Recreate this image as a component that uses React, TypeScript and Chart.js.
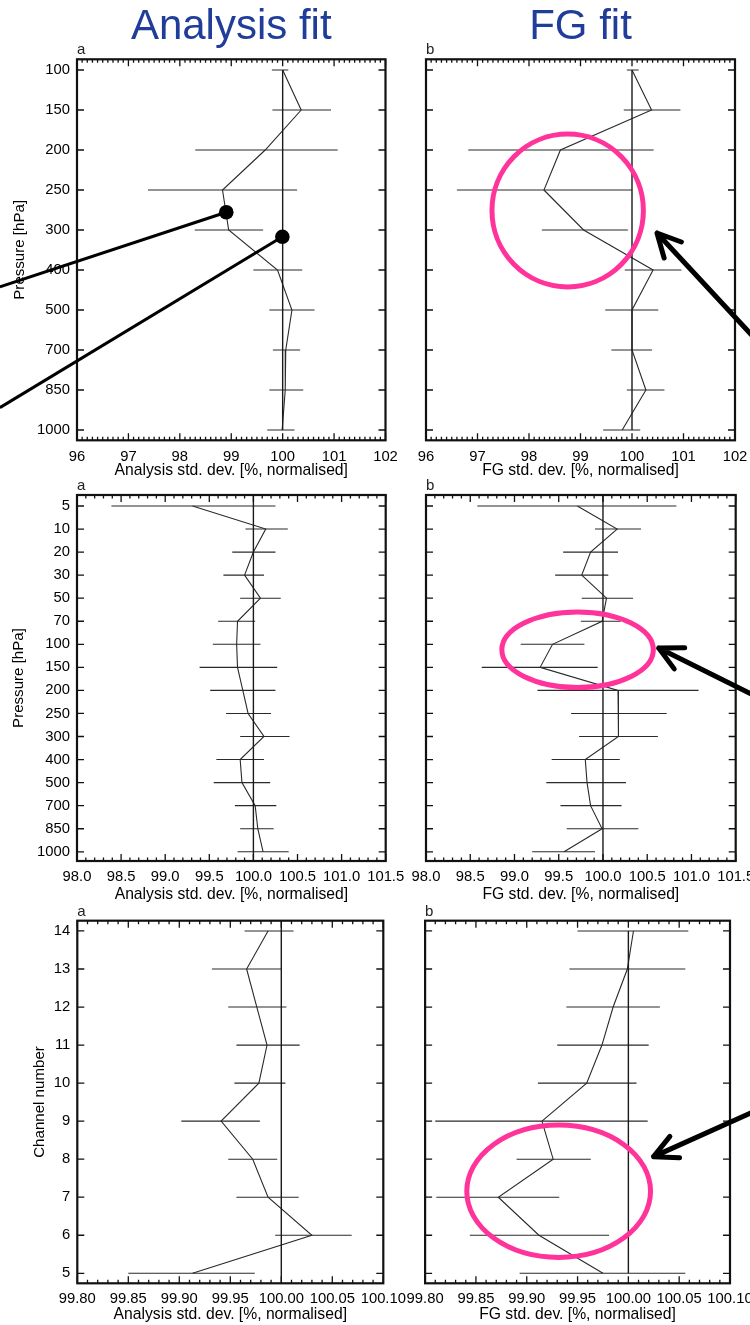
import React, { useEffect, useRef } from 'react';
import { Chart, registerables } from 'chart.js';

Chart.register(...registerables);

const FONT = '"Liberation Sans", Arial, Helvetica, sans-serif';
Chart.defaults.font.family = FONT;

// ---------------- data ----------------
// Top row: upper-air levels 100-1000 hPa
const upperLevels = ['100', '150', '200', '250', '300', '400', '500', '700', '850', '1000'];
const anUpperMean = [100.0, 100.36, 99.66, 98.83, 98.95, 99.9, 100.18, 100.06, 100.05, 99.99];
const anUpperLo = [99.79, 99.8, 98.3, 97.38, 98.29, 99.43, 99.74, 99.81, 99.74, 99.7];
const anUpperHi = [100.11, 100.94, 101.07, 100.28, 99.62, 100.38, 100.62, 100.34, 100.4, 100.23];
const fgUpperMean = [100.0, 100.38, 98.61, 98.29, 99.06, 100.41, 100.0, 100.0, 100.27, 99.81];
const fgUpperLo = [99.9, 99.84, 96.82, 96.6, 98.25, 99.86, 99.48, 99.6, 99.9, 99.44];
const fgUpperHi = [100.13, 100.94, 100.42, 100.0, 99.92, 100.96, 100.51, 100.39, 100.63, 100.16];

// Middle row: levels 5-1000 hPa
const fullLevels = ['5', '10', '20', '30', '50', '70', '100', '150', '200', '250', '300', '400', '500', '700', '850', '1000'];
const anFullMean = [99.31, 100.14, 100.0, 99.9, 100.08, 99.82, 99.81, 99.82, 99.88, 99.94, 100.12, 99.85, 99.87, 100.02, 100.05, 100.11];
const anFullLo = [98.39, 99.91, 99.76, 99.66, 99.85, 99.6, 99.54, 99.39, 99.51, 99.69, 99.85, 99.58, 99.55, 99.79, 99.85, 99.82];
const anFullHi = [100.25, 100.39, 100.25, 100.12, 100.31, 100.02, 100.08, 100.27, 100.25, 100.2, 100.41, 100.12, 100.19, 100.26, 100.23, 100.4];
const fgFullMean = [99.71, 100.16, 99.86, 99.76, 100.04, 99.99, 99.43, 99.29, 100.17, 100.18, 100.17, 99.8, 99.82, 99.86, 99.99, 99.56];
const fgFullLo = [98.58, 99.91, 99.55, 99.46, 99.76, 99.75, 99.07, 98.63, 99.26, 99.64, 99.73, 99.42, 99.36, 99.52, 99.59, 99.2];
const fgFullHi = [100.83, 100.43, 100.17, 100.06, 100.34, 100.2, 99.79, 99.94, 101.08, 100.72, 100.62, 100.19, 100.26, 100.21, 100.4, 99.91];

// Bottom row: channels 5-14
const channels = [5, 6, 7, 8, 9, 10, 11, 12, 13, 14];
const channelLabels = ['5', '6', '7', '8', '9', '10', '11', '12', '13', '14'];
const anChMean = [99.913, 100.03, 99.987, 99.972, 99.941, 99.978, 99.986, 99.976, 99.966, 99.987];
const anChLo = [99.85, 99.994, 99.956, 99.948, 99.902, 99.954, 99.956, 99.948, 99.932, 99.964];
const anChHi = [99.974, 100.069, 100.017, 99.996, 99.979, 100.004, 100.018, 100.005, 100.0, 100.012];
const fgChMean = [99.975, 99.912, 99.872, 99.926, 99.915, 99.959, 99.974, 99.985, 99.999, 100.005];
const fgChLo = [99.893, 99.844, 99.811, 99.89, 99.81, 99.911, 99.93, 99.939, 99.942, 99.95];
const fgChHi = [100.056, 99.981, 99.932, 99.963, 100.019, 100.008, 100.02, 100.031, 100.056, 100.059];

// x tick labels
const xTicksUpper = [96, 97, 98, 99, 100, 101, 102];
const xTicksFull = [98.0, 98.5, 99.0, 99.5, 100.0, 100.5, 101.0, 101.5];
const xTicksChannel = [99.8, 99.85, 99.9, 99.95, 100.0, 100.05, 100.1];

const upperIdx = upperLevels.map((_, i) => i);
const fullIdx = fullLevels.map((_, i) => i);

// ---------------- annotation marks (data coordinates) ----------------
const pointersA1 = [
  { x: 98.903, y: 3.557, x2: 94.5, y2: 5.42 },
  { x: 99.994, y: 4.17, x2: 94.5, y2: 8.44 },
];
const circleB1 = [{ x: 98.751, y: 3.5125, rx: 1.47, ry: 1.91 }];
const arrowB1 = [{ x: 100.485, y: 4.075, x2: 102.485, y2: 6.85 }];
const circleB2 = [{ x: 99.713, y: 6.234, rx: 0.856, ry: 1.64 }];
const arrowB2 = [{ x: 100.63, y: 6.16, x2: 101.88, y2: 8.55 }];
const circleB3 = [{ x: 99.9314, y: 7.157, rx: 0.0904, ry: 1.74 }];
const arrowB3 = [{ x: 100.0248, y: 8.067, x2: 100.139, y2: 9.44 }];

// ---------------- layout ----------------
const TICK_SIZE = 14.8;
const XT_SIZE = 15.7;
const YT_SIZE = 15.1;
const INK = '#000';

type Pt = { x: number; y: number; x2?: number; y2?: number; rx?: number; ry?: number };
interface PanelDef {
  canvas: [number, number, number, number];
  area: [number, number, number, number];
  title?: string;
  titleMid?: number;
  letter: string;
  subMid: number;
  yTitle?: string;
  yTitleMid?: number;
  xTitle: string;
  xTitleMid: number;
  xTickPad: number;
  xTicks: number[];
  xDec: number;
  minorPerMajor: number;
  yValues: number[];
  yLabels: string[];
  yMin: number;
  yMax: number;
  reverse: boolean;
  mean: number[];
  lo: number[];
  hi: number[];
  refFull: boolean;
  circles?: Pt[];
  arrows?: Pt[];
  pointers?: Pt[];
}

const PANELS: PanelDef[] = [
  {
    canvas: [0, 0, 420, 485], area: [77, 59.3, 385.5, 440.3],
    title: 'Analysis fit', titleMid: 27.5, letter: 'a', subMid: 50.3,
    yTitle: 'Pressure [hPa]', yTitleMid: 19.4,
    xTitle: 'Analysis std. dev. [%, normalised]', xTitleMid: 470.8, xTickPad: 7.3,
    xTicks: xTicksUpper, xDec: 0, minorPerMajor: 10,
    yValues: upperIdx, yLabels: upperLevels, yMin: -0.2675, yMax: 9.2575, reverse: true,
    mean: anUpperMean, lo: anUpperLo, hi: anUpperHi, refFull: false,
    pointers: pointersA1,
  },
  {
    canvas: [400, 0, 380, 485], area: [426, 59.3, 735, 440.3],
    title: 'FG fit', titleMid: 27.5, letter: 'b', subMid: 50.3,
    xTitle: 'FG std. dev. [%, normalised]', xTitleMid: 470.8, xTickPad: 7.3,
    xTicks: xTicksUpper, xDec: 0, minorPerMajor: 10,
    yValues: upperIdx, yLabels: upperLevels, yMin: -0.2675, yMax: 9.2575, reverse: true,
    mean: fgUpperMean, lo: fgUpperLo, hi: fgUpperHi, refFull: false,
    circles: circleB1, arrows: arrowB1,
  },
  {
    canvas: [0, 470, 420, 435], area: [77, 495, 385.7, 861],
    letter: 'a', subMid: 486,
    yTitle: 'Pressure [hPa]', yTitleMid: 18.9,
    xTitle: 'Analysis std. dev. [%, normalised]', xTitleMid: 894.5, xTickPad: 7.5,
    xTicks: xTicksFull, xDec: 1, minorPerMajor: 5,
    yValues: fullIdx, yLabels: fullLevels, yMin: -0.477, yMax: 15.4, reverse: true,
    mean: anFullMean, lo: anFullLo, hi: anFullHi, refFull: true,
  },
  {
    canvas: [400, 470, 380, 435], area: [426, 495, 735.7, 861],
    letter: 'b', subMid: 486,
    xTitle: 'FG std. dev. [%, normalised]', xTitleMid: 894.5, xTickPad: 7.5,
    xTicks: xTicksFull, xDec: 1, minorPerMajor: 5,
    yValues: fullIdx, yLabels: fullLevels, yMin: -0.477, yMax: 15.4, reverse: true,
    mean: fgFullMean, lo: fgFullLo, hi: fgFullHi, refFull: true,
    circles: circleB2, arrows: arrowB2,
  },
  {
    canvas: [0, 895, 420, 430], area: [77.3, 920.7, 383.3, 1283.3],
    letter: 'a', subMid: 912,
    yTitle: 'Channel number', yTitleMid: 39.4,
    xTitle: 'Analysis std. dev. [%, normalised]', xTitleMid: 1314.5, xTickPad: 6.6,
    xTicks: xTicksChannel, xDec: 2, minorPerMajor: 5,
    yValues: channels, yLabels: channelLabels, yMin: 4.737, yMax: 14.27, reverse: false,
    mean: anChMean, lo: anChLo, hi: anChHi, refFull: true,
  },
  {
    canvas: [400, 895, 380, 430], area: [424, 920.7, 730, 1283.3],
    letter: 'b', subMid: 912,
    xTitle: 'FG std. dev. [%, normalised]', xTitleMid: 1314.5, xTickPad: 6.6,
    xTicks: xTicksChannel, xDec: 2, minorPerMajor: 5,
    yValues: channels, yLabels: channelLabels, yMin: 4.737, yMax: 14.27, reverse: false,
    mean: fgChMean, lo: fgChLo, hi: fgChHi, refFull: false,
    circles: circleB3, arrows: arrowB3,
  },
];

function buildConfig(p: PanelDef): any {
  const [cl, ct, cw, chH] = p.canvas;
  const [L, T, R, B] = p.area;
  const yLH = YT_SIZE * 1.2;
  const xLH = XT_SIZE * 1.2;
  const showY = !!p.yTitle;
  const yScaleLeft = showY ? (p.yTitleMid as number) - yLH / 2 : L;
  const yW = L - yScaleLeft;
  const xScaleBottom = p.xTitleMid + xLH / 2;
  const xH = xScaleBottom - B;
  const padding = { left: yScaleLeft - cl, right: cl + cw - R, top: 0, bottom: ct + chH - xScaleBottom };

  let titleOpts: any = { display: false };
  let y0 = ct;
  if (p.title) {
    const tLH = 42 * 0.7;
    const tTop = (p.titleMid as number) - ct - tLH / 2;
    titleOpts = {
      display: true, text: p.title, color: '#1f3d99', align: 'center', fullSize: false,
      font: { family: FONT, size: 42, weight: 'normal', lineHeight: 0.7 },
      padding: { top: tTop, bottom: 0 },
    };
    y0 = ct + tTop + tLH;
  }
  const sLH = 15;
  const sTop = p.subMid - y0 - sLH / 2;
  const sBottom = T - (y0 + sTop + sLH);
  const subOpts = {
    display: true, text: p.letter, color: '#222', align: 'start', fullSize: false,
    font: { family: FONT, size: 15, weight: 'normal', lineHeight: 1 },
    padding: { top: sTop, bottom: sBottom },
  };

  const yv = p.yValues;
  const refY = p.refFull ? [p.yMin, p.yMax] : [yv[0], yv[yv.length - 1]];
  const datasets: any[] = [
    {
      data: refY.map((y) => ({ x: 100, y })), showLine: true,
      borderColor: '#1a1a1a', borderWidth: 1.4, pointRadius: 0,
    },
  ];
  p.lo.forEach((lo, i) => {
    datasets.push({
      data: [{ x: lo, y: yv[i] }, { x: p.hi[i], y: yv[i] }], showLine: true,
      borderColor: '#2a2a2a', borderWidth: 1.1, pointRadius: 0,
    });
  });
  datasets.push({
    data: p.mean.map((x, i) => ({ x, y: yv[i] })), showLine: true,
    borderColor: '#2a2a2a', borderWidth: 1.1, pointRadius: 0,
  });

  const framePlugin = {
    id: 'frame',
    afterDatasetsDraw(chart: any) {
      const { ctx, chartArea: a, scales } = chart;
      const xs = scales.x, ys = scales.y;
      const major = 7, minor = 3.5;
      ctx.save();
      ctx.strokeStyle = '#111';
      ctx.lineWidth = 1.3;
      ctx.beginPath();
      const mj = p.xTicks;
      mj.forEach((v, i) => {
        const px = xs.getPixelForValue(v);
        ctx.moveTo(px, a.bottom); ctx.lineTo(px, a.bottom - major);
        ctx.moveTo(px, a.top); ctx.lineTo(px, a.top + major);
        if (i < mj.length - 1) {
          for (let k = 1; k < p.minorPerMajor; k++) {
            const pm = xs.getPixelForValue(v + ((mj[i + 1] - v) * k) / p.minorPerMajor);
            ctx.moveTo(pm, a.bottom); ctx.lineTo(pm, a.bottom - minor);
            ctx.moveTo(pm, a.top); ctx.lineTo(pm, a.top + minor);
          }
        }
      });
      yv.forEach((v) => {
        const py = ys.getPixelForValue(v);
        ctx.moveTo(a.left, py); ctx.lineTo(a.left + major, py);
        ctx.moveTo(a.right, py); ctx.lineTo(a.right - major, py);
      });
      ctx.stroke();
      ctx.lineWidth = 2.2;
      ctx.strokeRect(a.left, a.top, a.right - a.left, a.bottom - a.top);
      ctx.restore();
    },
  };

  const annotPlugin = {
    id: 'annot',
    afterDraw(chart: any) {
      const { ctx, scales } = chart;
      const X = (v: number) => scales.x.getPixelForValue(v);
      const Y = (v: number) => scales.y.getPixelForValue(v);
      ctx.save();
      (p.circles || []).forEach((c) => {
        const cx = X(c.x), cy = Y(c.y);
        const rx = Math.abs(X(c.x + (c.rx as number)) - cx);
        const ry = Math.abs(Y(c.y + (c.ry as number)) - cy);
        ctx.strokeStyle = '#ff3399';
        ctx.lineWidth = 5;
        ctx.beginPath();
        ctx.ellipse(cx, cy, rx, ry, 0, 0, Math.PI * 2);
        ctx.stroke();
      });
      (p.arrows || []).forEach((ar) => {
        const tx = X(ar.x), ty = Y(ar.y);
        const ex = X(ar.x2 as number), ey = Y(ar.y2 as number);
        const ang = Math.atan2(ey - ty, ex - tx);
        const head = 26, spread = 0.47;
        ctx.strokeStyle = '#000';
        ctx.lineWidth = 5;
        ctx.lineCap = 'round';
        ctx.lineJoin = 'round';
        ctx.beginPath();
        ctx.moveTo(ex, ey); ctx.lineTo(tx, ty);
        ctx.moveTo(tx + head * Math.cos(ang - spread), ty + head * Math.sin(ang - spread));
        ctx.lineTo(tx, ty);
        ctx.lineTo(tx + head * Math.cos(ang + spread), ty + head * Math.sin(ang + spread));
        ctx.stroke();
      });
      (p.pointers || []).forEach((pt) => {
        const px = X(pt.x), py = Y(pt.y);
        ctx.strokeStyle = '#000';
        ctx.lineWidth = 3;
        ctx.beginPath();
        ctx.moveTo(px, py); ctx.lineTo(X(pt.x2 as number), Y(pt.y2 as number));
        ctx.stroke();
        ctx.fillStyle = '#000';
        ctx.beginPath();
        ctx.arc(px, py, 7.3, 0, Math.PI * 2);
        ctx.fill();
      });
      ctx.restore();
    },
  };

  return {
    type: 'scatter',
    data: { datasets },
    options: {
      animation: false,
      responsive: false,
      maintainAspectRatio: false,
      events: [],
      layout: { padding },
      plugins: {
        legend: { display: false },
        tooltip: { enabled: false },
        title: titleOpts,
        subtitle: subOpts,
      },
      scales: {
        x: {
          type: 'linear', position: 'bottom', bounds: 'data',
          min: p.xTicks[0], max: p.xTicks[p.xTicks.length - 1],
          grid: { display: false, drawTicks: false },
          border: { display: false },
          ticks: {
            padding: p.xTickPad, autoSkip: false, maxRotation: 0, minRotation: 0,
            color: INK, font: { family: FONT, size: TICK_SIZE },
            callback: (v: any) => Number(v).toFixed(p.xDec),
          },
          title: { display: true, text: p.xTitle, color: INK, font: { family: FONT, size: XT_SIZE }, padding: 0 },
          afterBuildTicks: (s: any) => { s.ticks = p.xTicks.map((value) => ({ value })); },
          afterFit: (s: any) => { s.height = xH; },
        },
        y: {
          type: 'linear', position: 'left', bounds: 'data',
          min: p.yMin, max: p.yMax, reverse: p.reverse,
          grid: { display: false, drawTicks: false },
          border: { display: false },
          ticks: {
            display: showY, padding: 7, autoSkip: false,
            color: INK, font: { family: FONT, size: TICK_SIZE },
            callback: (v: any) => { const i = yv.indexOf(Number(v)); return i >= 0 ? p.yLabels[i] : ''; },
          },
          title: { display: showY, text: p.yTitle || '', color: INK, font: { family: FONT, size: YT_SIZE }, padding: 0 },
          afterBuildTicks: (s: any) => { s.ticks = yv.map((value) => ({ value })); },
          afterFit: (s: any) => { s.width = yW; },
        },
      },
    },
    plugins: [framePlugin, annotPlugin],
  };
}

function Panel({ def }: { def: PanelDef }) {
  const ref = useRef<HTMLCanvasElement>(null);
  useEffect(() => {
    if (!ref.current) return;
    const chart = new Chart(ref.current, buildConfig(def));
    return () => chart.destroy();
  }, [def]);
  const [l, t, w, h] = def.canvas;
  return (
    <canvas
      ref={ref}
      width={w}
      height={h}
      style={{ position: 'absolute', left: l, top: t, width: w, height: h, display: 'block' }}
    />
  );
}

export default function App() {
  return (
    <div
      style={{
        position: 'absolute', left: 0, top: 0, width: 750, height: 1325,
        overflow: 'hidden', background: '#ffffff',
      }}
    >
      {PANELS.map((d, i) => (
        <Panel key={i} def={d} />
      ))}
    </div>
  );
}
